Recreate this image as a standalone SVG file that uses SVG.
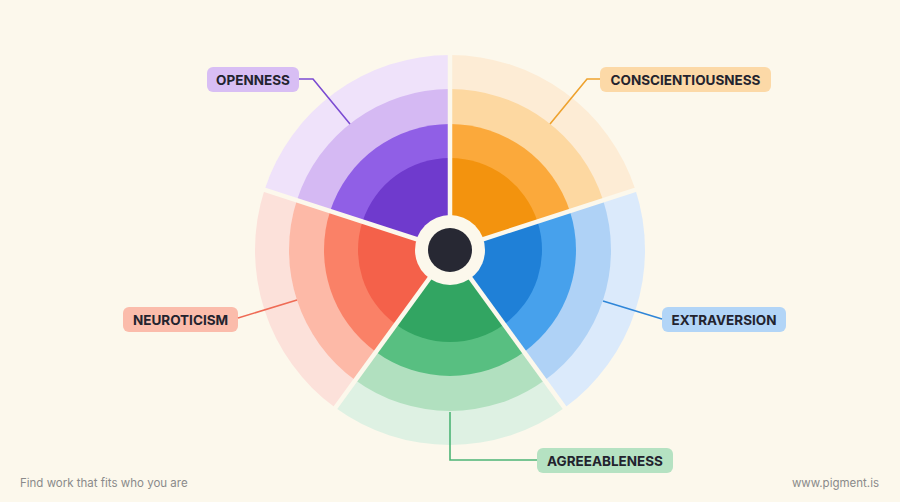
<svg xmlns="http://www.w3.org/2000/svg" width="900" height="502" viewBox="0 0 900 502">
<style>
.lbl{font-family:Inter,"Liberation Sans",sans-serif;font-weight:700;font-size:13.5px;fill:#23232e;text-anchor:middle}
.foot{font-family:Inter,"Liberation Sans",sans-serif;font-size:11.5px;fill:#8a8a8a}
.con{fill:none;stroke-width:1.6}
.gap{stroke:#fcf8ec;stroke-width:4.5;stroke-linecap:butt}
</style>
<rect width="900" height="502" fill="#fcf8ec"/>
<g id="openness">
<path d="M450 250 L264.54 189.74 A195 195 0 0 1 450 55 Z" fill="#efe2fa"/>
<path d="M450 250 L296.88 200.25 A161 161 0 0 1 450 89 Z" fill="#d5b9f3"/>
<path d="M450 250 L330.17 211.06 A126 126 0 0 1 450 124 Z" fill="#905fe6"/>
<path d="M450 250 L362.5 221.57 A92 92 0 0 1 450 158 Z" fill="#6f3acd"/>
<rect x="207" y="67" width="92" height="25" rx="6" fill="#d8bef4"/>
<text class="lbl" x="253" y="84.5">OPENNESS</text>
</g>
<g id="conscientiousness">
<path d="M450 250 L450 55 A195 195 0 0 1 635.46 189.74 Z" fill="#fdecd5"/>
<path d="M450 250 L450 89 A161 161 0 0 1 603.12 200.25 Z" fill="#fdd8a1"/>
<path d="M450 250 L450 124 A126 126 0 0 1 569.83 211.06 Z" fill="#fba93b"/>
<path d="M450 250 L450 158 A92 92 0 0 1 537.5 221.57 Z" fill="#f3930e"/>
<rect x="600" y="67" width="171" height="25" rx="6" fill="#fcd9a7"/>
<text class="lbl" x="685.5" y="84.5">CONSCIENTIOUSNESS</text>
</g>
<g id="extraversion">
<path d="M450 250 L635.46 189.74 A195 195 0 0 1 564.62 407.76 Z" fill="#dbeafb"/>
<path d="M450 250 L603.12 200.25 A161 161 0 0 1 544.63 380.25 Z" fill="#afd2f6"/>
<path d="M450 250 L569.83 211.06 A126 126 0 0 1 524.06 351.94 Z" fill="#47a1ec"/>
<path d="M450 250 L537.5 221.57 A92 92 0 0 1 504.08 324.43 Z" fill="#1f80d7"/>
<rect x="662" y="307" width="124" height="25" rx="6" fill="#b2d5f7"/>
<text class="lbl" x="724" y="324.5">EXTRAVERSION</text>
</g>
<g id="agreeableness">
<path d="M450 250 L564.62 407.76 A195 195 0 0 1 335.38 407.76 Z" fill="#def1e3"/>
<path d="M450 250 L544.63 380.25 A161 161 0 0 1 355.37 380.25 Z" fill="#b1e0bf"/>
<path d="M450 250 L524.06 351.94 A126 126 0 0 1 375.94 351.94 Z" fill="#58bf81"/>
<path d="M450 250 L504.08 324.43 A92 92 0 0 1 395.92 324.43 Z" fill="#32a562"/>
<rect x="537" y="448" width="136" height="25" rx="6" fill="#b5e2c2"/>
<text class="lbl" x="605" y="465.5">AGREEABLENESS</text>
</g>
<g id="neuroticism">
<path d="M450 250 L335.38 407.76 A195 195 0 0 1 264.54 189.74 Z" fill="#fce1da"/>
<path d="M450 250 L355.37 380.25 A161 161 0 0 1 296.88 200.25 Z" fill="#fdb9a7"/>
<path d="M450 250 L375.94 351.94 A126 126 0 0 1 330.17 211.06 Z" fill="#fa8167"/>
<path d="M450 250 L395.92 324.43 A92 92 0 0 1 362.5 221.57 Z" fill="#f4614a"/>
<rect x="123" y="307" width="115" height="25" rx="6" fill="#fbbcab"/>
<text class="lbl" x="180.5" y="324.5">NEUROTICISM</text>
</g>
<g id="center">
<line class="gap" x1="450" y1="250" x2="450" y2="48"/>
<line class="gap" x1="450" y1="250" x2="642.11" y2="187.58"/>
<line class="gap" x1="450" y1="250" x2="568.73" y2="413.42"/>
<line class="gap" x1="450" y1="250" x2="331.27" y2="413.42"/>
<line class="gap" x1="450" y1="250" x2="257.89" y2="187.58"/>
<circle cx="450" cy="250" r="35" fill="#fcf8ec"/>
<circle cx="450" cy="250" r="22" fill="#272833"/>
</g>
<g id="connectors">
<polyline class="con" stroke="#7b4bd2" points="299,79 313,79 350,124"/>
<polyline class="con" stroke="#eea22e" points="600,79 587,79 550,124"/>
<polyline class="con" stroke="#ef6b55" points="238,318 297,300"/>
<polyline class="con" stroke="#2f86d8" points="662,319 603,301"/>
<polyline class="con" stroke="#4cb475" points="537,460 450,460 450,412"/>
</g>
<text class="foot" x="20" y="487">Find work that fits who you are</text>
<text class="foot" x="879" y="487" text-anchor="end">www.pigment.is</text>
</svg>
